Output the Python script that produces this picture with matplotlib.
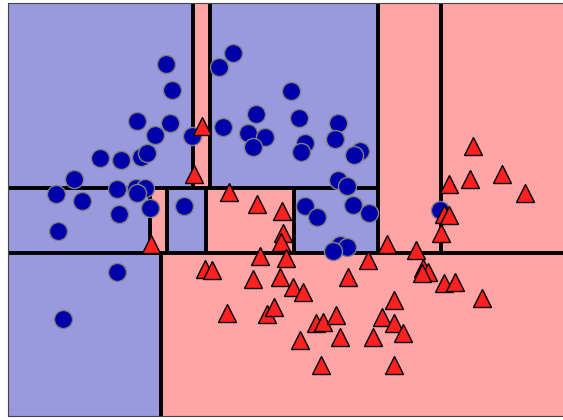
import numpy as np
import matplotlib
matplotlib.use('Agg')
import matplotlib.pyplot as plt

# class colours (blue circles = class 0, red triangles = class 1)
class_colors = ['#0000aa', '#ff2020']

# class 0 samples
circle_x = [1.58, 2.25, 2.11, 1.64, 2.83, 1.29, 1.62, 2.48, 2.91, 1.47, 1.84, 2.15,
            2.40, 2.57, 3.30, 3.27, 2.45, 2.97, 2.93, 3.52, 3.46, 0.92, 1.13, 1.33,
            1.39, 0.66, 0.48, 0.74, 1.09, 1.28, 1.37, 1.29, 1.42, 1.11, 1.76, 0.50,
            3.30, 3.39, 2.97, 3.09, 3.45, 3.61, 3.32, 3.39, 3.25, 4.32, 1.09, 0.55]
circle_y = [3.52, 3.63, 3.49, 3.26, 3.25, 2.95, 2.93, 3.02, 2.98, 2.81, 2.80, 2.89,
            2.83, 2.79, 2.93, 2.77, 2.69, 2.73, 2.64, 2.65, 2.61, 2.58, 2.56, 2.59,
            2.63, 2.37, 2.22, 2.15, 2.27, 2.28, 2.28, 2.23, 2.08, 2.02, 2.10, 1.85,
            2.36, 2.30, 2.10, 1.99, 2.11, 2.03, 1.71, 1.69, 1.65, 2.06, 1.44, 0.97]

# class 1 samples
tri_x = [1.94, 1.86, 2.21, 2.49, 2.74, 2.75, 2.73, 1.43, 2.52, 2.78, 1.97, 2.04,
         2.45, 2.72, 2.85, 2.95, 2.19, 2.59, 2.66, 3.08, 3.15, 3.28, 2.92, 3.32,
         3.13, 3.40, 3.60, 3.79, 4.08, 3.65, 3.74, 3.86, 3.95, 3.86, 3.86, 4.15,
         4.20, 4.14, 4.36, 4.47, 4.33, 4.36, 4.41, 4.41, 4.62, 4.65, 4.94, 5.17, 4.74]
tri_y = [2.90, 2.42, 2.24, 2.12, 2.05, 1.83, 1.74, 1.72, 1.60, 1.58, 1.47, 1.46,
         1.37, 1.39, 1.29, 1.24, 1.03, 1.02, 1.09, 0.93, 0.94, 1.01, 0.76, 0.79,
         0.51, 1.39, 1.56, 1.72, 1.66, 0.79, 0.99, 0.93, 0.83, 1.16, 0.51, 1.48,
         1.44, 1.43, 1.33, 1.34, 1.83, 2.02, 2.01, 2.32, 2.37, 2.70, 2.42, 2.23, 1.18]

x_min, x_max = 0.0, 5.64
y_min, y_max = 0.0, 4.13

# tree leaves: (x0, x1, y0, y1, predicted class)
leaves = [
    (0.00, 1.53, 0.00, 1.63, 0),
    (1.53, x_max, 0.00, 1.63, 1),
    (0.00, 1.42, 1.63, 2.28, 0),
    (1.42, 1.59, 1.63, 2.28, 1),
    (1.59, 1.98, 1.63, 2.28, 0),
    (1.98, 2.86, 1.63, 2.28, 1),
    (2.86, 3.70, 1.63, 2.28, 0),
    (0.00, 1.85, 2.28, y_max, 0),
    (1.85, 2.02, 2.28, y_max, 1),
    (2.02, 3.70, 2.28, y_max, 0),
    (3.70, 4.33, 1.63, y_max, 1),
    (4.33, x_max, 1.63, y_max, 1),
]

# split lines: (orientation, value, from, to)
splits = [
    ('h', 1.63, 0.00, x_max),
    ('v', 1.53, 0.00, 1.63),
    ('v', 3.70, 1.63, y_max),
    ('v', 4.33, 1.63, y_max),
    ('h', 2.28, 0.00, 3.70),
    ('v', 1.85, 2.28, y_max),
    ('v', 2.02, 2.28, y_max),
    ('v', 1.42, 1.63, 2.28),
    ('v', 1.59, 1.63, 2.28),
    ('v', 1.98, 1.63, 2.28),
    ('v', 2.86, 1.63, 2.28),
]

fig = plt.figure(figsize=(5.63, 4.2), dpi=100)
# right edge of the axes runs past the figure like in the reference
ax = fig.add_axes([8 / 563, 4 / 420, 564 / 563, 413 / 420])

for x0, x1, y0, y1, cls in leaves:
    ax.fill_between([x0, x1], y0, y1, color=class_colors[cls], alpha=.4, lw=0)

for orient, val, lo, hi in splits:
    if orient == 'v':
        ax.plot([val, val], [lo, hi], c='k', lw=2.8, solid_capstyle='butt')
    else:
        ax.plot([lo, hi], [val, val], c='k', lw=2.8, solid_capstyle='butt')

ax.plot(circle_x, circle_y, 'o', ms=13, c=class_colors[0], mec='grey', mew=1)
ax.plot(tri_x, tri_y, '^', ms=13, c=class_colors[1], mec='k', mew=1)

ax.set_xlim(x_min, x_max)
ax.set_ylim(y_min, y_max)
ax.set_xticks(())
ax.set_yticks(())
for sp in ax.spines.values():
    sp.set_color('#444444')

fig.savefig('out.png', dpi=100)
